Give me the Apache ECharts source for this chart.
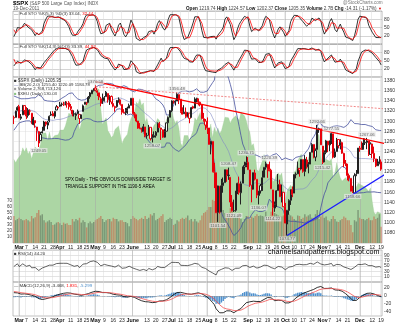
<!DOCTYPE html>
<html><head><meta charset="utf-8">
<script src="https://cdn.jsdelivr.net/npm/echarts@6/dist/echarts.min.js"></script>
<style>html,body{margin:0;padding:0;background:#fff}#c{width:400px;height:323px}</style>
</head><body><div id="c"></div>
<script>
// ---------- categories (trading days) ----------
const monthKeys = ['2011-02','2011-03','2011-04','2011-05','2011-06','2011-07','2011-08','2011-09','2011-10','2011-11','2011-12'];
const monthDays = [
 [24,25,28],
 [1,2,3,4,7,8,9,10,11,14,15,16,17,18,21,22,23,24,25,28,29,30,31],
 [1,4,5,6,7,8,11,12,13,14,15,18,19,20,21,25,26,27,28,29],
 [2,3,4,5,6,9,10,11,12,13,16,17,18,19,20,23,24,25,26,27,31],
 [1,2,3,6,7,8,9,10,13,14,15,16,17,20,21,22,23,24,27,28,29,30],
 [1,5,6,7,8,11,12,13,14,15,18,19,20,21,22,25,26,27,28,29],
 [1,2,3,4,5,8,9,10,11,12,15,16,17,18,19,22,23,24,25,26,29,30,31],
 [1,2,6,7,8,9,12,13,14,15,16,19,20,21,22,23,26,27,28,29,30],
 [3,4,5,6,7,10,11,12,13,14,17,18,19,20,21,24,25,26,27,28,31],
 [1,2,3,4,7,8,9,10,11,14,15,16,17,18,21,22,23,25,28,29,30],
 [1,2,5,6,7,8,9,12,13,14,15,16,19]
];
// ---------- tick labels ----------
const tickDates = ['2011-03-01','2011-03-07','2011-03-14','2011-03-21','2011-03-28','2011-04-01','2011-04-11','2011-04-18','2011-04-25',
 '2011-05-02','2011-05-09','2011-05-16','2011-05-23','2011-06-01','2011-06-13','2011-06-20','2011-06-27','2011-07-01','2011-07-11','2011-07-18','2011-07-25',
 '2011-08-01','2011-08-08','2011-08-15','2011-08-22','2011-09-01','2011-09-12','2011-09-19','2011-09-26','2011-10-03','2011-10-10','2011-10-17','2011-10-24',
 '2011-11-01','2011-11-07','2011-11-14','2011-11-21','2011-12-01','2011-12-12','2011-12-19'];
const tickText = ['Mar','7','14','21','28','Apr','11','18','25','May','9','16','23','June','13','20','27','Jul','11','18','25',
 'Aug','8','15','22','Sep','12','19','26','Oct','10','17','24','Nov','7','14','21','Dec','12','19'];
const monthLabels = ['Mar','Apr','May','June','Jul','Aug','Sep','Oct','Nov','Dec'];
// ---------- warm-up (Jan 3 - Feb 23 2011): high, low, close ----------
const warmHLC = [
 [1276.2,1257.6,1271.87],[1274.1,1262.7,1270.20],[1277.6,1265.4,1276.56],[1278.2,1268.7,1273.85],[1276.8,1261.7,1271.50],
 [1271.5,1262.2,1269.75],[1277.3,1269.6,1274.48],[1286.6,1274.9,1285.96],[1286.7,1280.5,1283.76],[1293.2,1281.1,1293.24],
 [1296.1,1290.3,1295.02],[1296.6,1279.0,1281.92],[1282.0,1271.3,1280.26],[1291.3,1281.1,1283.35],[1291.9,1282.5,1290.84],
 [1291.3,1281.1,1291.18],[1299.7,1290.3,1296.63],[1301.3,1294.4,1299.54],[1301.5,1275.1,1276.34],[1287.2,1276.3,1286.12],
 [1308.0,1287.2,1307.59],[1307.6,1302.6,1304.03],[1308.6,1294.8,1307.10],[1311.0,1301.7,1310.87],[1322.9,1311.0,1319.05],
 [1324.9,1316.0,1324.57],[1324.6,1314.9,1320.88],[1322.4,1311.7,1321.87],[1330.8,1316.1,1329.15],[1332.6,1326.9,1332.32],
 [1330.8,1324.6,1328.01],[1337.6,1328.0,1336.32],[1340.4,1334.0,1340.43],[1344.1,1338.1,1343.01],[1338.9,1312.3,1315.44],
 [1317.9,1299.6,1307.40]
];
// ---------- $SPX daily: open, high, low, close ----------
const ohlc = [
 [1307.3,1310.9,1294.3,1306.10],[1307.3,1320.6,1307.3,1319.88],[1321.6,1329.4,1320.6,1327.22],
 // Mar
 [1328.6,1332.1,1306.1,1306.33],[1305.5,1314.2,1302.6,1308.44],[1312.4,1332.0,1312.4,1330.97],[1330.7,1331.1,1312.6,1321.15],
 [1322.7,1327.7,1304.0,1310.13],[1311.1,1325.7,1306.9,1321.82],[1319.9,1323.2,1312.3,1320.02],[1315.7,1315.7,1294.2,1295.11],
 [1293.4,1308.4,1292.0,1304.28],[1301.2,1301.2,1287.0,1296.39],[1288.5,1288.5,1261.1,1281.87],[1279.5,1280.9,1249.05,1256.88],
 [1261.6,1278.9,1261.6,1273.72],[1276.7,1288.9,1276.2,1279.21],[1281.7,1300.6,1281.7,1298.38],[1298.3,1299.3,1289.9,1293.77],
 [1292.2,1300.5,1284.1,1297.54],[1300.6,1311.3,1297.7,1309.66],[1311.8,1319.2,1310.2,1313.80],[1315.5,1319.7,1310.2,1310.19],
 [1309.4,1319.5,1305.3,1319.44],[1321.9,1331.7,1321.9,1328.26],[1327.4,1329.8,1325.0,1325.83],
 // Apr
 [1329.5,1337.9,1328.0,1332.41],[1333.6,1336.7,1329.1,1332.87],[1332.0,1338.2,1330.0,1332.63],[1335.9,1339.5,1331.1,1335.54],
 [1334.8,1338.8,1326.6,1333.51],[1336.2,1339.5,1322.9,1328.17],[1329.0,1333.8,1321.1,1324.46],[1322.0,1322.0,1309.5,1314.16],
 [1314.0,1321.4,1309.2,1314.41],[1311.1,1316.8,1302.4,1314.52],[1314.5,1322.9,1313.7,1319.68],[1313.4,1313.4,1294.7,1305.14],
 [1306.0,1312.7,1304.0,1312.62],[1319.1,1332.7,1319.1,1330.36],[1333.2,1337.5,1332.8,1337.38],[1337.1,1337.6,1331.6,1335.25],
 [1336.8,1349.6,1336.8,1347.24],[1348.4,1357.5,1344.2,1355.66],[1353.9,1361.7,1353.6,1360.48],[1360.1,1364.6,1358.7,1363.61],
 // May
 [1365.2,1370.58,1358.6,1361.22],[1359.8,1360.8,1349.5,1356.62],[1355.9,1355.9,1341.5,1347.32],[1344.2,1348.0,1329.2,1335.10],
 [1340.2,1354.4,1334.0,1340.20],[1340.2,1349.4,1338.6,1346.29],[1348.3,1359.4,1348.3,1357.16],[1354.5,1354.5,1336.4,1342.08],
 [1339.4,1351.1,1332.0,1348.65],[1348.7,1350.5,1333.4,1337.77],[1334.8,1343.3,1327.3,1329.47],[1326.1,1330.4,1318.5,1328.98],
 [1328.5,1341.8,1326.6,1340.68],[1342.4,1346.8,1336.4,1343.60],[1342.0,1342.0,1330.7,1333.27],[1333.1,1333.1,1312.9,1317.37],
 [1317.7,1323.7,1315.4,1316.28],[1316.4,1325.9,1311.8,1320.47],[1320.6,1328.5,1314.3,1325.69],[1325.7,1334.6,1325.7,1331.10],
 [1331.1,1345.2,1331.1,1345.20],
 // Jun
 [1345.2,1345.2,1313.7,1314.55],[1314.6,1318.0,1305.6,1312.94],[1312.9,1312.9,1297.9,1300.16],[1300.3,1300.3,1284.9,1286.17],
 [1286.3,1296.2,1284.7,1284.94],[1284.6,1287.0,1277.4,1279.56],[1279.6,1294.5,1279.6,1289.00],[1288.6,1288.6,1268.3,1270.98],
 [1271.3,1277.0,1265.6,1271.83],[1272.2,1292.5,1272.2,1287.87],[1287.9,1287.9,1261.9,1265.42],[1265.5,1274.1,1258.07,1267.64],
 [1268.6,1279.8,1267.4,1271.50],[1271.5,1280.4,1267.6,1278.36],[1278.4,1297.6,1278.4,1295.52],[1295.5,1298.6,1286.8,1287.14],
 [1286.6,1286.8,1262.9,1283.50],[1283.0,1283.9,1267.2,1268.45],[1268.4,1284.9,1267.5,1280.10],[1280.2,1296.8,1280.2,1296.67],
 [1296.9,1309.2,1296.9,1307.41],[1307.6,1322.0,1307.6,1320.64],
 // Jul
 [1320.6,1341.0,1318.2,1339.67],[1339.6,1340.9,1334.3,1337.88],[1337.6,1340.9,1330.9,1339.22],[1339.6,1356.48,1339.6,1353.22],
 [1352.4,1352.4,1333.7,1343.80],[1343.3,1343.3,1316.4,1319.49],[1319.6,1327.2,1313.3,1313.64],[1314.5,1331.5,1314.5,1317.72],
 [1317.7,1326.9,1306.5,1308.87],[1308.9,1317.7,1307.4,1316.14],[1315.9,1315.9,1295.9,1305.44],[1307.1,1328.1,1307.1,1326.73],
 [1328.7,1330.4,1323.7,1325.84],[1325.6,1347.0,1325.6,1343.80],[1343.8,1346.1,1337.0,1345.02],[1344.3,1344.3,1331.1,1337.43],
 [1337.4,1338.5,1329.2,1331.94],[1331.9,1331.9,1303.5,1304.89],[1304.8,1316.3,1299.2,1300.67],[1300.1,1304.2,1282.9,1292.28],
 // Aug
 [1292.6,1307.4,1274.7,1286.94],[1286.6,1286.6,1254.0,1254.05],[1254.3,1261.2,1234.6,1260.34],[1260.2,1260.2,1199.5,1200.07],
 [1200.3,1218.1,1168.1,1199.38],[1198.5,1198.5,1119.3,1119.46],[1120.2,1172.9,1101.54,1172.53],[1171.8,1171.8,1118.0,1120.76],
 [1121.3,1186.3,1121.3,1172.64],[1172.9,1189.0,1159.0,1178.81],[1178.9,1204.5,1178.9,1204.49],[1204.2,1204.2,1180.5,1192.76],
 [1192.9,1208.47,1184.4,1193.89],[1189.6,1189.6,1131.0,1140.65],[1140.5,1154.5,1122.0,1123.53],[1123.6,1145.5,1121.09,1123.82],
 [1124.4,1162.4,1121.6,1162.35],[1162.2,1178.6,1156.3,1177.60],[1176.7,1190.7,1155.1,1159.27],[1158.9,1181.2,1135.9,1176.80],
 [1177.9,1210.3,1177.9,1210.08],[1209.8,1220.1,1195.8,1212.92],[1213.0,1230.71,1209.4,1218.89],
 // Sep
 [1219.1,1229.3,1203.9,1204.42],[1203.9,1203.9,1170.6,1173.97],[1174.0,1174.0,1140.1,1165.24],[1165.9,1198.6,1165.9,1198.62],
 [1198.0,1204.4,1183.3,1185.90],[1185.4,1185.4,1148.4,1154.23],[1153.5,1162.5,1136.07,1162.27],[1162.6,1176.4,1157.4,1172.87],
 [1173.3,1202.4,1162.7,1188.68],[1189.4,1209.1,1189.4,1209.11],[1209.2,1220.1,1204.5,1216.01],[1215.0,1215.0,1188.4,1204.09],
 [1204.5,1220.39,1201.3,1202.09],[1203.6,1206.3,1166.2,1166.76],[1164.6,1164.6,1114.22,1129.56],[1128.8,1141.7,1121.4,1136.43],
 [1136.9,1164.2,1131.1,1162.95],[1163.3,1195.9,1163.3,1175.38],[1175.4,1184.7,1150.9,1151.06],[1151.7,1175.1,1139.9,1160.40],
 [1159.9,1159.9,1131.3,1131.42],
 // Oct
 [1131.2,1139.0,1098.9,1099.23],[1097.4,1125.1,1074.77,1123.95],[1124.0,1146.1,1115.7,1144.03],[1144.1,1165.6,1135.0,1164.97],
 [1165.0,1171.4,1150.3,1155.46],[1158.2,1194.9,1158.2,1194.89],[1194.6,1199.2,1187.3,1195.54],[1196.2,1220.3,1196.2,1207.25],
 [1207.0,1207.5,1190.6,1203.66],[1205.7,1224.6,1205.7,1224.58],[1224.5,1224.5,1198.5,1200.86],[1200.8,1233.1,1191.5,1225.38],
 [1223.5,1229.6,1206.3,1209.88],[1209.9,1219.4,1197.3,1215.39],[1215.4,1239.0,1215.4,1238.25],[1238.7,1256.6,1238.7,1254.19],
 [1254.2,1254.2,1226.8,1229.05],[1229.2,1246.3,1221.1,1242.00],[1244.0,1292.66,1244.0,1284.59],[1284.4,1287.1,1277.0,1285.09],
 [1285.0,1285.0,1253.2,1253.30],
 // Nov
 [1251.0,1251.0,1215.42,1218.28],[1219.6,1242.5,1219.6,1237.90],[1238.3,1263.2,1234.8,1261.15],[1260.8,1260.8,1238.9,1253.23],
 [1253.2,1261.7,1240.8,1261.12],[1261.1,1277.55,1255.0,1275.92],[1275.2,1275.2,1226.6,1229.10],[1229.6,1246.2,1227.7,1239.70],
 [1240.1,1267.0,1240.1,1263.85],[1263.9,1263.9,1246.7,1251.78],[1251.7,1264.3,1244.3,1257.81],[1257.8,1259.6,1235.7,1236.91],
 [1236.6,1237.7,1209.4,1216.13],[1216.2,1223.5,1211.4,1215.65],[1215.6,1215.6,1183.2,1192.98],[1193.0,1196.8,1181.6,1188.04],
 [1187.5,1187.5,1161.8,1161.79],[1161.4,1172.7,1158.66,1158.67],[1158.7,1197.4,1158.7,1192.55],[1192.6,1203.7,1191.8,1195.19],
 [1196.7,1247.1,1196.7,1246.96],
 // Dec
 [1246.9,1251.1,1239.7,1244.58],[1246.0,1260.1,1243.4,1244.28],[1244.3,1266.7,1244.3,1257.08],[1257.2,1266.0,1253.0,1258.47],
 [1258.1,1267.06,1244.8,1261.01],[1260.9,1260.9,1231.5,1234.35],[1234.5,1258.3,1234.5,1255.19],[1255.1,1255.1,1227.3,1236.47],
 [1236.8,1249.9,1219.4,1225.73],[1225.7,1225.7,1209.5,1211.82],[1212.1,1225.6,1212.1,1215.75],[1216.1,1231.0,1215.2,1219.66],
 [1219.74,1224.57,1202.37,1205.35]
];
// ---------- volume (hundreds of millions) ----------
const volume = [45,38,40,
 42,40,38,38,40,38,36,45,41,43,50,55,46,48,38,34,36,38,35,30,31,34,35,
 33,30,34,32,33,30,30,40,36,40,38,42,34,38,35,26,33,36,33,35,
 38,40,42,45,40,35,38,40,40,36,42,40,40,36,38,38,35,35,33,28,40,
 45,42,40,38,40,42,40,45,40,42,48,46,50,38,40,42,45,48,35,38,40,42,
 40,30,32,38,36,40,42,40,42,46,38,40,36,40,36,34,38,46,50,52,
 55,60,60,72,70,78,75,75,68,55,50,50,50,58,58,45,50,45,50,40,35,40,45,
 45,40,44,42,45,48,45,46,45,44,52,40,44,52,58,50,48,46,45,44,46,
 52,56,48,46,44,40,38,46,45,40,42,48,44,46,48,42,42,48,55,40,44,
 48,42,44,38,36,40,45,40,36,35,38,40,44,42,38,38,30,18,38,36,55,
 42,40,40,38,40,42,38,38,44,40,42,48,27];
// ---------- $XEU overlay (green area) ----------
const xeu = [1.380,1.375,1.380,
 1.382,1.387,1.397,1.391,1.397,1.388,1.392,1.381,1.390,1.398,1.397,1.393,1.402,1.418,1.416,1.419,1.408,1.420,1.409,1.409,1.415,1.413,1.416,
 1.423,1.421,1.423,1.429,1.430,1.448,1.445,1.448,1.447,1.447,1.443,1.423,1.433,1.452,1.458,1.457,1.464,1.476,1.482,1.481,
 1.485,1.483,1.483,1.454,1.431,1.437,1.441,1.422,1.418,1.412,1.415,1.424,1.425,1.429,1.416,1.403,1.410,1.409,1.417,1.431,1.440,
 1.439,1.450,1.464,1.461,1.469,1.459,1.463,1.435,1.440,1.442,1.417,1.415,1.430,1.433,1.440,1.437,1.423,1.416,1.425,1.438,1.443,1.450,
 1.453,1.440,1.433,1.437,1.426,1.404,1.399,1.415,1.417,1.415,1.407,1.415,1.422,1.441,1.437,1.438,1.449,1.437,1.437,1.439,
 1.423,1.420,1.432,1.412,1.427,1.419,1.426,1.418,1.422,1.424,1.442,1.440,1.441,1.433,1.439,1.438,1.444,1.441,1.437,1.449,1.450,1.444,1.437,
 1.426,1.420,1.400,1.403,1.389,1.365,1.362,1.370,1.377,1.387,1.379,1.369,1.370,1.359,1.347,1.350,1.357,1.360,1.356,1.360,1.339,
 1.318,1.334,1.338,1.342,1.338,1.361,1.364,1.378,1.380,1.388,1.374,1.377,1.374,1.376,1.389,1.395,1.393,1.392,1.419,1.415,1.385,
 1.370,1.376,1.380,1.379,1.377,1.381,1.353,1.361,1.375,1.362,1.353,1.348,1.346,1.353,1.348,1.352,1.334,1.324,1.333,1.333,1.345,
 1.347,1.342,1.340,1.339,1.341,1.333,1.338,1.318,1.302,1.299,1.303,1.304,1.300];
// ---------- annotated highs/lows ----------
const noteDates = ['2011-03-16','2011-05-02','2011-06-16','2011-07-07','2011-08-09','2011-08-17','2011-08-22','2011-08-31','2011-09-12','2011-09-20','2011-09-22','2011-10-04','2011-10-27','2011-11-01','2011-11-08','2011-11-25','2011-12-07'];
const notePrices = [1249.05,1370.58,1258.07,1356.48,1101.54,1208.47,1121.09,1230.71,1136.07,1220.39,1114.22,1074.77,1292.66,1215.42,1277.55,1158.66,1267.06];
const noteSide = ['bottom','top','bottom','top','bottom','top','bottom','top','bottom','top','bottom','bottom','top','bottom','top','bottom','top'];
// ---------- trendlines: [day index, price] ----------
const redLine = [[46,1378],[217.6,1249.6]];
const redDotLine = [[46,1368],[217.6,1322]];
const blueLine = [[154,1074.77],[217.6,1213.6]];

// =============== build ===============
const dates = [];
monthKeys.forEach((m,i)=>monthDays[i].forEach(d=>dates.push(m+'-'+String(d).padStart(2,'0'))));
const N = dates.length;
const tickMap = new Map(tickDates.map((d,i)=>[dates.indexOf(d), tickText[i]]));
const monthIdx = tickDates.filter((d,i)=>monthLabels.includes(tickText[i])).map(d=>dates.indexOf(d));
const W = warmHLC.length;
const allH = warmHLC.map(r=>r[0]).concat(ohlc.map(r=>r[1]));
const allL = warmHLC.map(r=>r[1]).concat(ohlc.map(r=>r[2]));
const allC = warmHLC.map(r=>r[2]).concat(ohlc.map(r=>r[3]));
function smaN(a,n){return a.map((v,i)=>{if(i<n-1)return null;const w=a.slice(i-n+1,i+1);if(w.some(x=>x==null))return null;return w.reduce((p,q)=>p+q,0)/n;});}
function ema(a,n){const k=2/(n+1);let e=null;return a.map(v=>{e=(e==null)?v:(v*k+e*(1-k));return e;});}
function fullSto(n,s,d){
  const fk=allC.map((c,i)=>{if(i<n-1)return null;const hh=Math.max(...allH.slice(i-n+1,i+1));const ll=Math.min(...allL.slice(i-n+1,i+1));return 100*(c-ll)/(hh-ll);});
  const k=smaN(fk,s), dd=smaN(k,d); return [k.slice(W),dd.slice(W)];
}
const sto5=fullSto(5,3,3), sto14=fullSto(14,3,3);
const mid=smaN(allC,20);
const sd=allC.map((c,i)=>{if(mid[i]==null)return null;const w=allC.slice(i-19,i+1);return Math.sqrt(w.reduce((p,q)=>p+(q-mid[i])*(q-mid[i]),0)/20);});
const bbU=mid.map((m,i)=>m==null?null:m+2*sd[i]).slice(W), bbL=mid.map((m,i)=>m==null?null:m-2*sd[i]).slice(W), bbM=mid.slice(W);
const rsiAll=[];{let ag=0,al=0;for(let i=0;i<allC.length;i++){if(i===0){rsiAll.push(null);continue;}const ch=allC[i]-allC[i-1],g=Math.max(ch,0),l=Math.max(-ch,0);
 if(i<=14){ag+=g;al+=l;if(i===14){ag/=14;al/=14;rsiAll.push(100-100/(1+ag/al));}else rsiAll.push(null);}
 else{ag=(ag*13+g)/14;al=(al*13+l)/14;rsiAll.push(100-100/(1+ag/al));}}}
const rsi=rsiAll.slice(W);
const e12=ema(allC,12),e26=ema(allC,26);const macdAll=e12.map((v,i)=>v-e26[i]);const sigAll=ema(macdAll,9);
const macd=macdAll.slice(W), sig=sigAll.slice(W), hist=macd.map((v,i)=>v-sig[i]);

const candles=ohlc.map((r,i)=>{const prev=i===0?warmHLC[W-1][2]:ohlc[i-1][3];const col=r[3]<prev?'#e8000b':'#222';
  return {value:[r[0],r[3],r[2],r[1]],itemStyle:{color:'#ffffff',color0:col,borderColor:col,borderColor0:col}};});
const volData=volume.map((v,i)=>{const prev=i===0?warmHLC[W-1][2]:ohlc[i-1][3];return {value:v,itemStyle:{color:ohlc[i][3]<prev?'rgba(205,60,40,0.45)':'rgba(40,45,40,0.36)'}};});
const notes=noteDates.map((d,i)=>({value:[dates.indexOf(d),notePrices[i]],label:{position:noteSide[i]}}));

const F='"Liberation Sans", Arial, "DejaVu Sans", sans-serif';
const L=13,R=18;
const gridDefs=[[11,33],[44,33],[77,166],[250,32],[282,34]];
const grid=gridDefs.map(g=>({left:L,right:R,top:g[0],height:g[1],show:true,borderColor:'#999',borderWidth:0.6,backgroundColor:'rgba(0,0,0,0)'}));
const tickInt=(i)=>tickMap.has(i);
function catAxis(gi,lab){return {type:'category',gridIndex:gi,data:dates,boundaryGap:true,axisLine:{show:false},axisTick:{show:false},
  axisLabel:{show:lab,interval:tickInt,margin:2,fontSize:5,color:'#222',fontFamily:F,
    formatter:(v,i)=>{const t=tickMap.get(dates.indexOf(v))||'';return monthLabels.includes(t)?'{m|'+t+'}':t;},
    rich:{m:{fontWeight:'bold',fontSize:5.3,color:'#111',fontFamily:F}}},
  splitLine:{show:true,interval:tickInt,lineStyle:{color:'#dadada',width:0.5}}};}
const lab=(f)=>({fontSize:5,color:'#333',margin:2,fontFamily:F,formatter:f});
const xAxis=[catAxis(0,false),catAxis(1,false),catAxis(2,true),catAxis(3,false),catAxis(4,true),
 {type:'value',gridIndex:2,min:-0.5,max:N-0.5,show:false}];
const yAxis=[
 {type:'value',gridIndex:0,position:'right',min:-10,max:110,interval:30,axisLine:{show:false},axisTick:{show:false},axisLabel:lab(v=>(v>=20&&v<=80)?v:''),splitLine:{lineStyle:{color:'#aaa',width:0.5}}},
 {type:'value',gridIndex:1,position:'right',min:-10,max:110,interval:30,axisLine:{show:false},axisTick:{show:false},axisLabel:lab(v=>(v>=20&&v<=80)?v:''),splitLine:{lineStyle:{color:'#aaa',width:0.5}}},
 {type:'value',gridIndex:2,position:'right',min:1060,max:1387,interval:20,axisLine:{show:false},axisTick:{show:false},axisLabel:lab(v=>(v>=1080&&v<=1380)?v:''),splitLine:{lineStyle:{color:'#e0e0e0',width:0.5}}},
 {type:'value',gridIndex:2,position:'left',min:0,max:276.7,interval:10,axisLine:{show:false},axisTick:{show:false},axisLabel:Object.assign(lab(v=>(v>=10&&v<=70)?v:''),{fontSize:4.5,margin:1}),splitLine:{show:false}},
 {type:'value',gridIndex:2,min:1.257,max:1.501,show:false},
 {type:'value',gridIndex:3,position:'right',min:-10,max:110,interval:20,axisLine:{show:false},axisTick:{show:false},axisLabel:lab(v=>(v>=10&&v<=90)?v:''),splitLine:{lineStyle:{color:'#c8c8c8',width:0.5}}},
 {type:'value',gridIndex:4,position:'right',min:-50,max:35,interval:10,axisLine:{show:false},axisTick:{show:false},axisLabel:lab(v=>([-40,-20,0,20].includes(v))?v:''),splitLine:{show:false}}
];
const monthMark={silent:true,symbol:'none',label:{show:false},animation:false,lineStyle:{color:'#a6a6a6',width:0.5,type:'solid'},data:monthIdx.map(i=>({xAxis:i}))};
const ln=(xi,yi,data,color,w,extra)=>Object.assign({type:'line',xAxisIndex:xi,yAxisIndex:yi,data,symbol:'none',silent:true,animation:false,z:5,lineStyle:{color,width:w}},extra||{});
const series=[
 ln(0,0,sto5[0],'#000',0.8,{markLine:monthMark}), ln(0,0,sto5[1],'#f00',0.8),
 ln(1,1,sto14[0],'#000',0.8,{markLine:monthMark}), ln(1,1,sto14[1],'#f00',0.8),
 ln(2,4,xeu,'#9ccb94',0.3,{z:1,areaStyle:{color:'#acd6a4',opacity:1,origin:'start'},markLine:monthMark}),
 {type:'bar',xAxisIndex:2,yAxisIndex:3,data:volData,barWidth:'80%',silent:true,animation:false,z:3},
 ln(2,2,bbU,'#46509e',0.8), ln(2,2,bbM,'#8088c4',0.6), ln(2,2,bbL,'#46509e',0.8),
 {type:'candlestick',xAxisIndex:2,yAxisIndex:2,data:candles,barWidth:1.6,silent:true,animation:false,z:6},
 ln(5,2,redDotLine,'#f07a7a',0.9,{z:7,clip:false,lineStyle:{color:'#f07a7a',width:0.9,type:[2,1.5]}}),
 ln(5,2,redLine,'#ff0000',1.4,{z:7,clip:false}),
 ln(5,2,blueLine,'#1a1aff',1.2,{z:7,clip:false}),
 {type:'scatter',xAxisIndex:2,yAxisIndex:2,data:notes,symbolSize:0,silent:true,animation:false,z:8,
  label:{show:true,fontSize:4.3,fontFamily:F,color:'#444',backgroundColor:'rgba(232,232,232,0.9)',padding:[0.5,1],distance:1,formatter:p=>p.value[1].toFixed(2)}},
 ln(3,5,rsi,'#222',0.7,{markLine:monthMark}),
 {type:'bar',xAxisIndex:4,yAxisIndex:6,data:hist,barWidth:'80%',itemStyle:{color:'#4d8fcc'},silent:true,animation:false,z:3,markLine:monthMark},
 ln(4,6,macd,'#000',0.8,{markLine:{silent:true,symbol:'none',label:{show:false},lineStyle:{color:'#999',width:0.5,type:'solid'},data:[{yAxis:0}]}}),
 ln(4,6,sig,'#f25050',0.8)
];
const T=(left,top,text,font,fill,extra)=>({type:'text',left,top,z:100,silent:true,style:Object.assign({text,font,fill},extra||{})});
const f=(s,b)=>(b?'bold ':'')+s+'px '+F;
const graphic=[
 T(13,0.5,'{b|$SPX} {n|(S&P 500 Large Cap Index) INDX}',f(5),'#444',{rich:{b:{font:f(6,true),fill:'#000'},n:{font:f(4.6),fill:'#555'}}}),
 T(13,6.5,'19-Dec-2011',f(4.6),'#555'),
 T(343,0.5,'@StockCharts.com',f(4.6),'#777'),
 T(186,6.3,'{b|Open} 1219.74 {b|High} 1224.57 {b|Low} 1202.37 {b|Close} 1205.35 {b|Volume} 2.7B {b|Chg} -14.31 (-1.17%) {r|▼}',f(4.6),'#444',{rich:{b:{font:f(4.6,true),fill:'#111'},r:{font:f(4),fill:'#d00'}}}),
 T(14,12,'— Full STO %K(5,3) %D(3) 33.04, {r|32.44}',f(4.4),'#333',{rich:{r:{font:f(4.4),fill:'#f00'}}}),
 T(14,45,'— Full STO %K(14,3) %D(3) 33.39, {r|44.92}',f(4.4),'#333',{rich:{r:{font:f(4.4),fill:'#f00'}}}),
 T(14,78,'■ $SPX (Daily) 1205.35',f(4.5),'#333'),
 T(14,82.6,'{u|—} BB(20,2.0) 1255.40 1220.09 1184.78',f(4.3),'#333',{rich:{u:{font:f(4.3),fill:'#46509e'}}}),
 T(14,87.2,'{v|■} Volume 2,768,713,126',f(4.3),'#333',{rich:{v:{font:f(4.3),fill:'#999'}}}),
 T(14,91.8,'{g|■} $XEU (Daily) 130.03',f(4.3),'#333',{rich:{g:{font:f(4.3),fill:'#8cc484'}}}),
 T(65,176.8,'SPX Daily - THE OBVIOUS DOWNSIDE TARGET IS',f(4.5),'#000'),
 T(65,184.3,'TRIANGLE SUPPORT IN THE 1190-5 AREA',f(4.5),'#000'),
 T(268,248.7,'channelsandpatterns.blogspot.com',f(7.2),'#000'),
 T(14,251.5,'■ RSI(14) 44.20',f(4.4),'#333'),
 T(14,284,'— MACD(12,26,9) -3.468, {r|1.831}, {b|-5.299}',f(4.4),'#333',{rich:{r:{font:f(4.4),fill:'#f00'},b:{font:f(4.4),fill:'#4d8fcc'}}})
];
if(ohlc.length!==N||volume.length!==N||xeu.length!==N){graphic.push(T(100,150,'LEN '+N+' '+ohlc.length+' '+volume.length+' '+xeu.length,f(12,true),'#f0f'));}
const chart=echarts.init(document.getElementById('c'),null,{renderer:'canvas',width:400,height:323,devicePixelRatio:1});
chart.setOption({animation:false,backgroundColor:'#fff',grid,xAxis,yAxis,series,graphic,textStyle:{fontFamily:F}});
</script></body></html>
